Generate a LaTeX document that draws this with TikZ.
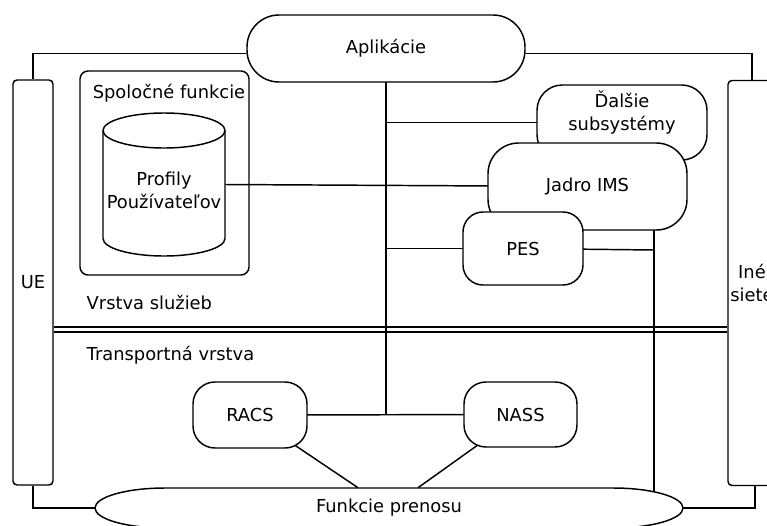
\documentclass[tikz,border=0pt]{standalone}
\usepackage{fontspec}
\setmainfont{DejaVu Sans}
\usetikzlibrary{positioning, calc, backgrounds}
\tikzset{
    box/.style={draw, fill=white, line width=1.1pt, inner sep=0pt, align=center},
    pill/.style={box, rounded corners=#1},
    side/.style={box, rounded corners=3pt, minimum height=303.75pt},
    wire/.style={line width=1.1pt}
}

\begin{document}
\begin{tikzpicture}[x=0.75pt, y=-0.75pt, font=\fontsize{13.4}{17.5}\selectfont]
    \useasboundingbox (0,0) rectangle (767,525);
    \clip (0,0) rectangle (767,525);
    % service layer
    \node[pill=24pt, minimum width=208.5pt, minimum height=50.25pt] (apl) at (386,48.5) {Aplikácie};
    \node[side, minimum width=30pt] (ue) at (33,282.5) {UE};
    \node[side, minimum width=36pt] (ine) at (752,283) {Iné\\siete};
    \node[draw, line width=1.1pt, rounded corners=6pt, minimum width=126.75pt, minimum height=153pt] (spol) at (164.5,173) {};
    \node (spoltxt) at (169,93) {Spoločné funkcie};
    % database
    \draw[wire, fill=white] (103,130.5) -- (103,238.5)
        arc[start angle=180, end angle=360, x radius=45.75pt, y radius=13.125pt] -- (225,130.5)
        arc[start angle=0, end angle=180, x radius=45.75pt, y radius=13.125pt] -- cycle;
    \draw[wire] (103,130.5) arc[start angle=180, end angle=360, x radius=45.75pt, y radius=13.125pt];
    \node[inner sep=0pt, align=center, minimum width=91.5pt, minimum height=107.25pt, text height=36pt] (profily) at (164,184.5) {Profily\\Používateľov};
    \node[pill=19pt, minimum width=127.5pt, minimum height=56.25pt, text depth=18pt] (dalsie) at (622,122.5) {Ďalšie\\subsystémy};
    \node[pill=23pt, minimum width=149.25pt, minimum height=65.25pt] (jadro) at (587.5,186.5) {Jadro IMS};
    \node[pill=15pt, minimum width=90pt, minimum height=54.75pt] (pes) at (523,248.5) {PES};
    \node[anchor=west] (sluzby) at (82,302) {Vrstva služieb};
    % transport layer
    \node[anchor=west] (transport) at (82,355) {Transportná vrstva};
    \node[pill=16.5pt, minimum width=85.5pt, minimum height=49.5pt] (racs) at (250,415) {RACS};
    \node[pill=16.5pt, minimum width=84.75pt, minimum height=48.75pt] (nass) at (520.5,414.5) {NASS};
    \draw[wire, fill=white] (165,488) -- (613,488)
        arc[start angle=90, end angle=-90, x radius=52.5pt, y radius=15pt] -- (165,528)
        arc[start angle=270, end angle=90, x radius=52.5pt, y radius=15pt] -- cycle;
    \node[inner sep=0pt, minimum width=441pt, minimum height=30pt] (prenos) at (389,508) {Funkcie prenosu};
    % connections
    \begin{scope}[on background layer]
        \coordinate (layer) at (0,329.5);
        \coordinate (tap) at (654,250);
        \coordinate (bus) at (386,415);
        \draw[wire, double, double distance=2.6pt] (ue.east |- layer) -- (ine.west |- layer);
        \draw[wire] (apl.center) -- (apl |- bus);
        \draw[wire] (apl |- dalsie) -- (dalsie.center);
        \draw[wire] (profily.east) -- (jadro.center);
        \draw[wire] (apl |- pes) -- (pes.center);
        \draw[wire] (pes.center) -- (tap);
        \draw[wire] (jadro.center -| tap) -- (prenos.center -| tap);
        \draw[wire] (racs.center) -- (nass.center);
        \draw[wire] (racs.center) -- ($(prenos.north)+(-31,0)$);
        \draw[wire] (nass.center) -- ($(prenos.north)+(29,0)$);
        \draw[wire] ([yshift=-3.75pt]apl.west) -| (ue.north);
        \draw[wire] ([yshift=-3.75pt]apl.east) -| (ine.north);
        \draw[wire] (ue.south) |- (prenos.west);
        \draw[wire] (prenos.east) -| ([xshift=2.25pt]ine.south);
    \end{scope}
\end{tikzpicture}
\end{document}
